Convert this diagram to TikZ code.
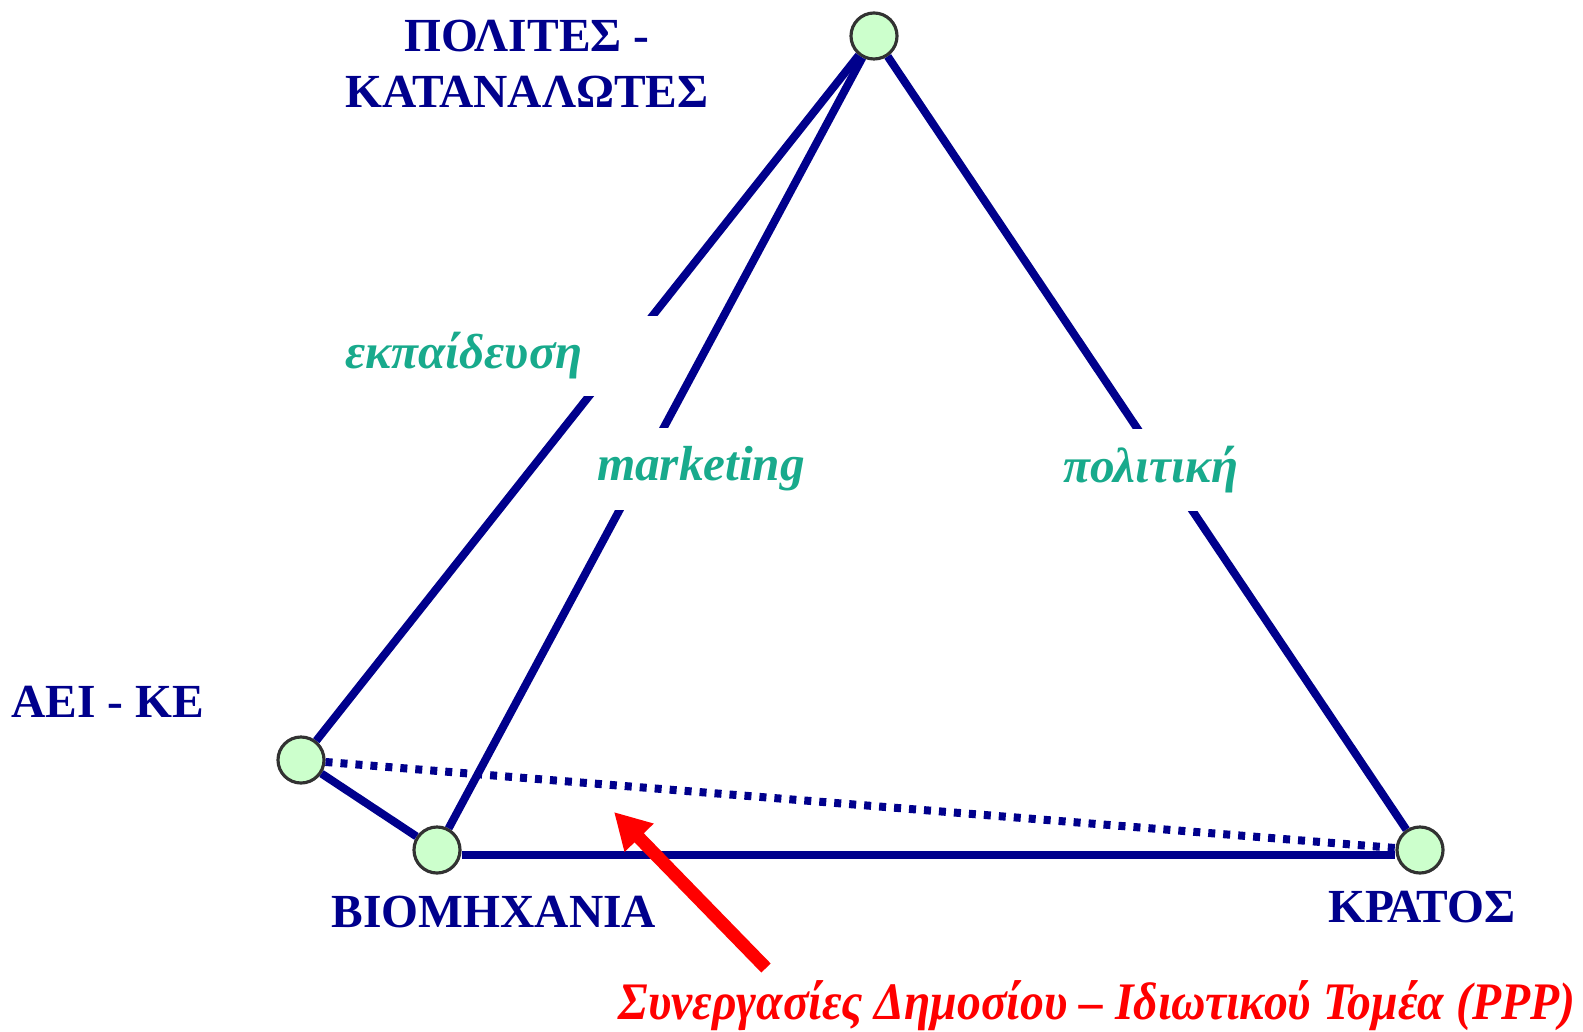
\documentclass[tikz,border=0pt]{standalone}
\usepackage{fontspec}
\setmainfont{Liberation Serif}
\usetikzlibrary{ % tikz packages
    positioning,
    arrows.meta
}
\definecolor{navyline}{RGB}{0,0,140}
\definecolor{tealtext}{RGB}{24,170,140}
\definecolor{actorfill}{RGB}{204,255,204}
\definecolor{actoredge}{RGB}{50,50,50}
\tikzset{
    actor/.style={circle, draw=actoredge, line width=0.9pt, fill=actorfill,
        minimum size=0.46cm, inner sep=0pt},
    link/.style={draw=navyline, line width=0.08cm},
    actorname/.style={text=navyline, align=center,
        font=\fontsize{13.5}{16}\selectfont\bfseries},
    linkname/.style={text=tealtext, fill=white, inner sep=0pt,
        font=\fontsize{14}{16}\selectfont\bfseries\itshape},
    pointer/.style={draw=red, line width=0.13cm,
        -{Triangle[length=0.36cm,width=0.38cm]}}
}

\begin{document}
\begin{tikzpicture}[x=0.01cm,y=-0.01cm]
        \useasboundingbox (0,0) rectangle (1583,1031);

        \node[actor] (citizens) at (874,36) {};
        \node[actor] (univ) at (301,760) {};
        \node[actor] (industry) at (437,850) {};
        \node[actor] (state) at (1420,850) {};

        \node[actorname] (citizensname) at (527,64) {ΠΟΛΙΤΕΣ -\\ΚΑΤΑΝΑΛΩΤΕΣ};
        \node[actorname] (univname) at (108,702) {ΑΕΙ - ΚΕ};
        \node[actorname] (industryname) at (494,912) {ΒΙΟΜΗΧΑΝΙΑ};
        \node[actorname] (statename) at (1422,907) {ΚΡΑΤΟΣ};

        \path[link]
            (citizens) edge (univ)
            (citizens) edge (industry)
            (citizens) edge (state)
            (univ) edge (industry);
        \draw[link] ([yshift=-0.05cm]industry.east) -- ([yshift=-0.05cm]state.west);
        \draw[link, dash pattern=on 0.07cm off 0.08cm] (univ) -- (state);

        % labels cut the lines
        \node[linkname, minimum width=4.1cm, minimum height=0.8cm] (education) at (464,356) {εκπαίδευση};
        \node[linkname, minimum width=2.4cm, minimum height=0.82cm] (marketing) at (701,469) {marketing};
        \node[linkname, minimum width=1.9cm, minimum height=0.81cm] (policy) at (1151,470) {πολιτική};

        \node[text=red, inner sep=0pt, font=\fontsize{15}{16}\selectfont\bfseries\itshape] (ppp) at (1097,1006)
            {\resizebox{9.56cm}{\height}{Συνεργασίες Δημοσίου – Ιδιωτικού Τομέα (PPP)}};
        \coordinate (ppptail) at (766,968);
        \coordinate (ppptip) at (614,812);
        \draw[pointer] (ppptail) -- (ppptip);
    \end{tikzpicture}
\end{document}
